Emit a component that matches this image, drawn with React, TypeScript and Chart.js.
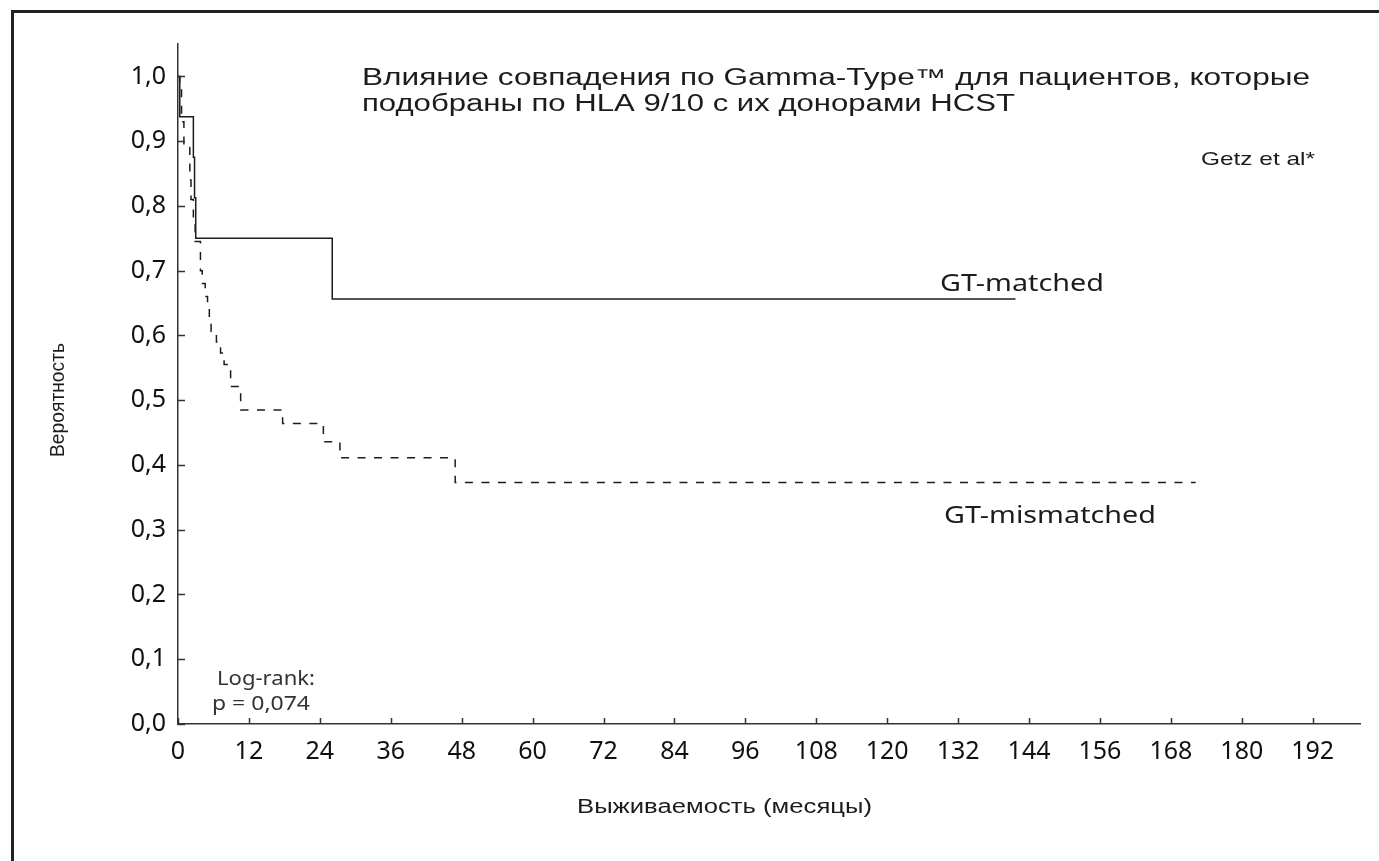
import React, { useEffect, useRef } from "react";
import { Chart, registerables } from "chart.js";

Chart.register(...registerables);

// ---- data ----
const matchedMonths = [0, 0.3, 2.6, 2.8, 3.0, 26.1, 141.7];
const matchedSurvival = [1.0, 0.9375, 0.875, 0.8125, 0.75, 0.65625, 0.65625];

const mismatchedMonths = [
  0, 0.3, 0.6, 1.0, 2.0, 2.2, 2.6, 2.9, 3.8, 4.1, 4.6, 5.0, 5.3, 5.6, 6.5, 7.2, 7.8, 8.9, 10.6, 17.7,
  24.6, 27.4, 46.9, 172.2,
];
const mismatchedSurvival = [
  1.0, 0.985, 0.93, 0.89, 0.84, 0.81, 0.775, 0.745, 0.7, 0.68, 0.66, 0.642, 0.624, 0.606, 0.59, 0.573,
  0.555, 0.521, 0.485, 0.464, 0.436, 0.411, 0.373, 0.373,
];

const xTickValues = [0, 12, 24, 36, 48, 60, 72, 84, 96, 108, 120, 132, 144, 156, 168, 180, 192];
const yTickValues = [0, 0.1, 0.2, 0.3, 0.4, 0.5, 0.6, 0.7, 0.8, 0.9, 1.0];
const yTickLabels = ["0,0", "0,1", "0,2", "0,3", "0,4", "0,5", "0,6", "0,7", "0,8", "0,9", "1,0"];

const titleLines = [
  "Влияние совпадения по Gamma-Type™ для пациентов, которые",
  "подобраны по HLA 9/10 с их донорами HCST",
];
const sourceNote = "Getz et al*";
const matchedLabel = "GT-matched";
const mismatchedLabel = "GT-mismatched";
const logRankLines = ["Log-rank:", "p = 0,074"];
const yAxisTitle = "Вероятность";
const xAxisTitle = "Выживаемость (месяцы)";

const INK = "#1c1c1c";

type TextSpec = {
  text: string;
  x: number;
  y: number;
  font: string;
  width: number;
  color?: string;
  rotate?: boolean;
};

const textSpecs: TextSpec[] = [
  { text: titleLines[0], x: 362, y: 85, font: "23px 'Liberation Sans'", width: 948 },
  { text: titleLines[1], x: 362, y: 111, font: "23px 'Liberation Sans'", width: 653 },
  { text: sourceNote, x: 1201, y: 165, font: "19px 'Liberation Sans'", width: 114 },
  { text: matchedLabel, x: 940, y: 291, font: "23px 'Noto Sans'", width: 164 },
  { text: mismatchedLabel, x: 944, y: 523, font: "23px 'Noto Sans'", width: 212 },
  { text: logRankLines[0], x: 217, y: 685, font: "19px 'Noto Sans'", width: 98, color: "#333" },
  { text: logRankLines[1], x: 212, y: 710, font: "19px 'Noto Sans'", width: 98, color: "#333" },
  { text: xAxisTitle, x: 577, y: 813, font: "20px 'Liberation Sans'", width: 295 },
  { text: yAxisTitle, x: 64, y: 457, font: "20px 'Liberation Sans'", width: 114, rotate: true },
];

const annotationPlugin = {
  id: "annotations",
  afterDraw(chart: any) {
    const ctx = chart.ctx as CanvasRenderingContext2D;
    const { left, bottom } = chart.chartArea;
    // inward tick marks
    ctx.save();
    ctx.strokeStyle = "#333";
    ctx.lineWidth = 1.5;
    const xs = chart.scales.x;
    const ys = chart.scales.y;
    ctx.beginPath();
    xTickValues.forEach((v) => {
      const px = Math.round(xs.getPixelForValue(v)) + 0.5;
      ctx.moveTo(px, bottom);
      ctx.lineTo(px, bottom - 6);
    });
    yTickValues.forEach((v) => {
      const py = Math.round(ys.getPixelForValue(v)) + 0.5;
      ctx.moveTo(left, py);
      ctx.lineTo(left + 7, py);
    });
    ctx.stroke();
    ctx.restore();

    // texts
    textSpecs.forEach((s) => {
      ctx.save();
      ctx.font = s.font;
      ctx.fillStyle = s.color || INK;
      ctx.textBaseline = "alphabetic";
      ctx.textAlign = "left";
      const w = ctx.measureText(s.text).width;
      const sx = s.width / w;
      ctx.translate(s.x, s.y);
      if (s.rotate) {
        ctx.rotate(-Math.PI / 2);
      }
      ctx.scale(sx, 1);
      ctx.fillText(s.text, 0, 0);
      ctx.restore();
    });
  },
};

export default function App() {
  const canvasRef = useRef<HTMLCanvasElement | null>(null);

  useEffect(() => {
    const canvas = canvasRef.current;
    if (!canvas) return;
    const chart = new Chart(canvas, {
      type: "line",
      data: {
        datasets: [
          {
            label: matchedLabel,
            data: matchedMonths.map((m, i) => ({ x: m, y: matchedSurvival[i] })),
            borderColor: INK,
            borderWidth: 1.5,
            pointRadius: 0,
            stepped: "before",
            fill: false,
          },
          {
            label: mismatchedLabel,
            data: mismatchedMonths.map((m, i) => ({ x: m, y: mismatchedSurvival[i] })),
            borderColor: INK,
            borderWidth: 1.5,
            borderDash: [8, 8.5],
            pointRadius: 0,
            stepped: "before",
            fill: false,
          },
        ],
      },
      options: {
        animation: false,
        responsive: false,
        devicePixelRatio: 1,
        layout: { padding: { left: 0, top: 44, right: 19, bottom: 0 } },
        plugins: {
          legend: { display: false },
          tooltip: { enabled: false },
        },
        scales: {
          x: {
            type: "linear",
            min: 0,
            max: 200,
            afterFit: (s: any) => {
              s.height = 137;
            },
            afterBuildTicks: (s: any) => {
              s.ticks = xTickValues.map((v) => ({ value: v }));
            },
            ticks: {
              autoSkip: false,
              maxRotation: 0,
              padding: 13,
              color: "#111",
              font: { family: "'Noto Sans'", size: 25 },
              callback: (v: any) => String(v),
            },
            grid: { display: true, drawOnChartArea: false, drawTicks: false },
            border: { display: true, color: "#333", width: 1.5 },
          },
          y: {
            type: "linear",
            min: 0,
            max: 1.05,
            afterFit: (s: any) => {
              s.width = 178;
            },
            afterBuildTicks: (s: any) => {
              s.ticks = yTickValues.map((v) => ({ value: v }));
            },
            ticks: {
              autoSkip: false,
              padding: 12,
              color: "#111",
              font: { family: "'Noto Sans'", size: 25 },
              callback: (v: any) => {
                const i = yTickValues.findIndex((t) => Math.abs(t - v) < 1e-6);
                return i >= 0 ? yTickLabels[i] : "";
              },
            },
            grid: { display: true, drawOnChartArea: false, drawTicks: false },
            border: { display: true, color: "#333", width: 1.5 },
          },
        },
      },
      plugins: [annotationPlugin],
    });
    return () => chart.destroy();
  }, []);

  return (
    <div style={{ position: "fixed", left: 0, top: 0, width: 1379, height: 861, background: "#fff" }}>
      <div
        style={{
          position: "absolute",
          left: 11,
          top: 10,
          right: -10,
          bottom: -10,
          borderTop: "3px solid #222",
          borderLeft: "3px solid #222",
        }}
      />
      <canvas ref={canvasRef} width={1379} height={861} style={{ position: "absolute", left: 0, top: 0 }} />
    </div>
  );
}
